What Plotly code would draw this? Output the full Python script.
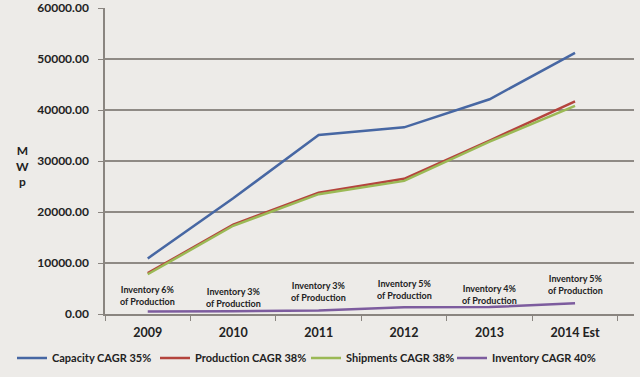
import plotly.graph_objects as go

years = ["2009", "2010", "2011", "2012", "2013", "2014 Est"]
capacity = [10900, 22700, 35100, 36600, 42100, 51200]
production = [8000, 17500, 23800, 26500, 34000, 41700]
shipments = [7800, 17300, 23500, 26100, 33800, 40800]
inventory = [480, 520, 710, 1330, 1360, 2100]
inv_labels = ["Inventory 6%<br>of Production", "Inventory 3%<br>of Production",
              "Inventory 3%<br>of Production", "Inventory 5%<br>of Production",
              "Inventory 4%<br>of Production", "Inventory 5%<br>of Production"]
inv_label_y = [3700, 3300, 4500, 4900, 3900, 5700]
y_ticks = [0, 10000, 20000, 30000, 40000, 50000, 60000]

series = [
    ("Capacity CAGR 35%", capacity, "#4767a3"),
    ("Production CAGR 38%", production, "#b4443d"),
    ("Shipments CAGR 38%", shipments, "#9bb955"),
    ("Inventory CAGR 40%", inventory, "#7d5c9e"),
]
legend_x_px = [12, 155, 306, 452]

FONT = "Lato"
W, H = 640, 377
ML, MR, MT, MB = 105, 6, 8, 63
PW, PH = W - ML - MR, H - MT - MB

fig = go.Figure()
legend_layout = {}
for k, ((name, vals, col), lx) in enumerate(zip(series, legend_x_px)):
    lname = "legend" if k == 0 else f"legend{k + 1}"
    fig.add_trace(go.Scatter(x=years, y=vals, name=name, mode="lines", legend=lname,
                             line=dict(color=col, width=2.5)))
    legend_layout[lname] = dict(
        orientation="h", x=lx / W, xanchor="left", xref="container",
        y=1 - 358 / H, yanchor="middle", yref="container",
        font=dict(family=FONT, size=11, color="#222", weight="bold"),
        bgcolor="rgba(0,0,0,0)", itemwidth=30)

for i, (lab, ly) in enumerate(zip(inv_labels, inv_label_y)):
    fig.add_annotation(x=i, y=ly, text=lab, showarrow=False, xref="x", yref="y",
                       font=dict(family=FONT, size=9, color="#222", weight="bold"),
                       align="center")

fig.add_annotation(x=(22 - ML) / PW, y=(H - MB - 166) / PH, xref="paper", yref="paper",
                   xanchor="center", yanchor="middle", text="M<br>W<br>p",
                   showarrow=False, font=dict(family=FONT, size=12, color="#222", weight="bold"))

fig.update_layout(
    width=W, height=H,
    margin=dict(l=ML, r=MR, t=MT, b=MB, autoexpand=False),
    paper_bgcolor="#edebe8", plot_bgcolor="#edebe8",
    font=dict(family=FONT, size=12, color="#222"),
    showlegend=True,
    **legend_layout,
)

fig.update_xaxes(type="category", range=[-0.5, 5.69], showgrid=False,
                 showline=True, linecolor="#8a8580", linewidth=1.5,
                 ticks="outside", tickson="boundaries", ticklen=5, tickcolor="#8a8580",
                 ticklabelstandoff=6,
                 tickfont=dict(family=FONT, size=12.5, color="#222", weight="bold"))
fig.update_yaxes(range=[0, 60000], tickvals=y_ticks,
                 ticktext=[f"{v:.2f}" for v in y_ticks],
                 showgrid=True, gridcolor="#8f8a85", gridwidth=1.5,
                 showline=True, linecolor="#8a8580", linewidth=1.5,
                 ticks="outside", ticklen=5, tickcolor="#8a8580",
                 zeroline=False, ticklabelstandoff=7,
                 tickfont=dict(family=FONT, size=12, color="#222", weight="bold"))

fig.write_html("out.html", config={"displayModeBar": False},
               post_script="document.body.style.margin='0';")
